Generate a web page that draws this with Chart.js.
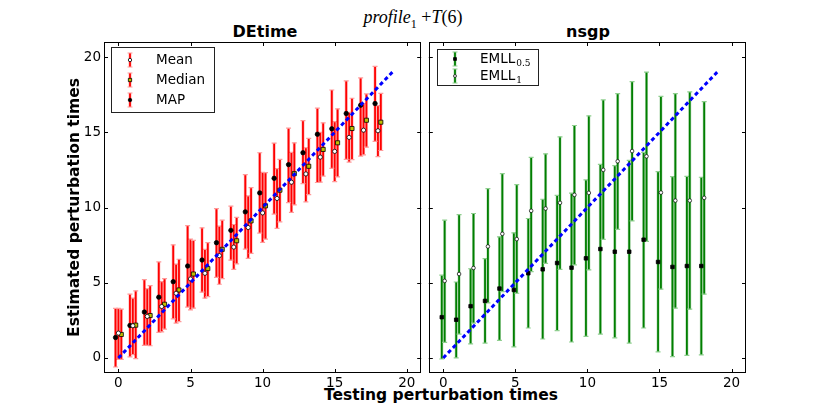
<!DOCTYPE html>
<html>
<head>
<meta charset="utf-8">
<script src="https://cdn.jsdelivr.net/npm/chart.js@4.4.1/dist/chart.umd.min.js"></script>
<style>
  body { margin: 0; background: #fff; }
  #wrap { position: relative; width: 830px; height: 415px; overflow: hidden; font-family: "DejaVu Sans", sans-serif; }
  canvas { position: absolute; top: 0; }
  .lbl { position: absolute; white-space: nowrap; line-height: 1; color: #000; text-align: center; }
</style>
</head>
<body>
<div id="wrap">
  <div class="lbl" style="left:313px; top:8px; width:200px; font-family:'Liberation Serif', serif; font-size:18px;"><i>profile</i><sub style="font-size:12px">1</sub> +<i>T</i>(6)</div>
  <div class="lbl" style="left:165px; top:24px; width:200px; font-size:16px; font-weight:bold;">DEtime</div>
  <div class="lbl" style="left:488px; top:24px; width:200px; font-size:16px; font-weight:bold;">nsgp</div>
  <div class="lbl" style="left:291px; top:388px; width:300px; font-size:15.5px; font-weight:bold;">Testing perturbation times</div>
  <canvas id="left" width="426" height="415" style="left:0"></canvas>
  <canvas id="right" width="406" height="415" style="left:424px"></canvas>
</div>
<script>
// testing perturbation times (x positions)
const trueTimes = [0, 1, 2, 3, 4, 5, 6, 7, 8, 9, 10, 11, 12, 13, 14, 15, 16, 17, 18];
const xTicks = [0, 5, 10, 15, 20];
const yTicks = [0, 5, 10, 15, 20];
const lineX = [0, 19];
const lineY = [0, 19];

// DEtime estimates
const meanVals = [1.65, 2.14, 2.76, 3.42, 4.3, 5.25, 5.63, 6.8, 7.37, 8.67, 9.64, 10.6, 11.68, 12.23, 13.35, 13.73, 14.66, 15.14, 15.1];
const meanHi = [3.3, 3.98, 4.6, 5.07, 6.24, 7.9, 7.22, 8.76, 8.87, 10.77, 12.34, 12.58, 13.66, 13.97, 15.0, 15.71, 16.33, 16.9, 16.77];
const meanLo = [-0.1, 0.22, 0.83, 1.74, 2.32, 3.2, 3.97, 4.9, 5.89, 6.62, 7.68, 8.61, 9.67, 10.37, 11.68, 11.72, 13.02, 13.5, 13.38];

const medianVals = [1.56, 2.18, 2.82, 3.57, 4.52, 5.58, 5.94, 7.22, 7.79, 9.11, 10.11, 11.15, 12.25, 12.74, 13.86, 14.3, 15.25, 15.8, 15.67];
const medianHi = [3.25, 4.46, 4.81, 5.27, 6.56, 7.81, 7.66, 9.16, 9.34, 11.32, 12.32, 13.2, 14.3, 14.59, 15.63, 16.56, 17.26, 17.55, 17.59];
const medianLo = [-0.1, -0.05, 0.81, 1.92, 2.42, 3.31, 4.08, 5.27, 6.25, 6.95, 7.9, 9.05, 10.17, 10.86, 12.09, 12.03, 13.18, 14.01, 13.79];

const mapVals = [1.36, 2.16, 3.05, 4.04, 5.07, 6.11, 6.51, 7.66, 8.48, 9.71, 10.97, 11.94, 12.85, 13.64, 14.87, 15.23, 16.25, 16.8, 16.91];
const mapHi = [3.3, 4.24, 5.2, 6.38, 7.52, 8.8, 8.65, 9.93, 10.09, 12.19, 13.64, 14.28, 15.27, 15.78, 16.6, 17.81, 18.41, 18.61, 19.38];
const mapLo = [-0.6, 0.07, 0.83, 1.7, 2.6, 3.38, 4.37, 5.36, 6.5, 7.24, 8.3, 9.56, 10.33, 11.59, 11.66, 12.6, 13.2, 13.42, 14.39];

// nsgp estimates
const emll05Vals = [2.71, 2.54, 3.44, 3.79, 4.61, 4.52, 5.63, 5.89, 6.31, 6.0, 6.62, 7.24, 7.06, 7.06, 7.86, 6.38, 6.05, 6.11, 6.11];
const emll05Hi = [5.5, 5.05, 5.93, 6.6, 8.05, 8.32, 9.27, 10.55, 10.81, 10.95, 11.83, 12.87, 12.78, 13.13, 13.66, 12.38, 12.05, 12.07, 12.01];
const emll05Lo = [-0.07, 0.0, 0.93, 0.99, 1.17, 0.73, 1.99, 1.26, 1.81, 1.06, 1.43, 1.59, 1.34, 0.99, 1.99, 0.4, 0.09, 0.17, 0.2];

const emll1Vals = [5.12, 5.58, 5.98, 7.41, 8.25, 7.9, 9.78, 9.93, 10.31, 10.84, 10.97, 12.5, 13.07, 13.75, 13.4, 10.99, 10.46, 10.46, 10.64];
const emll1Hi = [9.16, 9.53, 9.6, 11.26, 12.25, 11.52, 13.33, 13.57, 14.7, 15.45, 16.09, 17.15, 17.57, 18.36, 19.0, 17.39, 17.57, 17.68, 17.04];
const emll1Lo = [1.03, 1.59, 2.32, 3.66, 4.41, 4.3, 5.74, 6.29, 5.89, 6.18, 5.85, 7.88, 8.54, 9.11, 7.75, 4.57, 3.31, 3.24, 4.24];

Chart.defaults.font.family = '"DejaVu Sans", sans-serif';
Chart.defaults.color = '#000';

function pts(vals, offset) {
  return trueTimes.map((t, i) => ({ x: t + offset, y: vals[i] }));
}

function drawBar(ctx, ds, x, top, bot) {
  ctx.lineCap = 'butt';
  ctx.strokeStyle = ds.barHalo;
  ctx.lineWidth = 3;
  ctx.beginPath(); ctx.moveTo(x, top); ctx.lineTo(x, bot); ctx.stroke();
  ctx.strokeStyle = ds.barColor;
  ctx.lineWidth = 1.8;
  ctx.beginPath(); ctx.moveTo(x, top); ctx.lineTo(x, bot); ctx.stroke();
  ctx.strokeStyle = ds.capColor;
  ctx.lineWidth = 1.2;
  ctx.beginPath();
  ctx.moveTo(x - 2.5, top); ctx.lineTo(x + 2.5, top);
  ctx.moveTo(x - 2.5, bot); ctx.lineTo(x + 2.5, bot);
  ctx.stroke();
}

const errorBars = {
  id: 'errorBars',
  beforeDatasetsDraw(chart) {
    const { ctx, chartArea, scales: { x, y } } = chart;
    ctx.save();
    ctx.beginPath();
    ctx.rect(chartArea.left, chartArea.top, chartArea.right - chartArea.left, chartArea.bottom - chartArea.top);
    ctx.clip();
    chart.data.datasets.forEach(ds => {
      if (!ds.errLo) return;
      ds.data.forEach((p, i) => {
        drawBar(ctx, ds, x.getPixelForValue(p.x), y.getPixelForValue(ds.errHi[i]), y.getPixelForValue(ds.errLo[i]));
      });
    });
    ctx.restore();
  }
};

const frame = {
  id: 'frame',
  afterDraw(chart) {
    const { ctx, chartArea: a, scales: { x, y } } = chart;
    ctx.save();
    ctx.strokeStyle = '#000';
    ctx.lineWidth = 1;
    ctx.strokeRect(Math.round(a.left) + 0.5, Math.round(a.top) + 0.5, Math.round(a.right - a.left) - 1, Math.round(a.bottom - a.top) - 1);
    ctx.beginPath();
    xTicks.forEach(v => {
      const px = Math.round(x.getPixelForValue(v)) + 0.5;
      ctx.moveTo(px, a.bottom); ctx.lineTo(px, a.bottom - 4);
      ctx.moveTo(px, a.top); ctx.lineTo(px, a.top + 4);
    });
    yTicks.forEach(v => {
      const py = Math.round(y.getPixelForValue(v)) + 0.5;
      ctx.moveTo(a.left, py); ctx.lineTo(a.left + 4, py);
      ctx.moveTo(a.right, py); ctx.lineTo(a.right - 4, py);
    });
    ctx.stroke();
    ctx.restore();
  }
};

const boxLegend = {
  id: 'boxLegend',
  afterDraw(chart, args, opts) {
    const { ctx, chartArea } = chart;
    const bx = Math.round(chartArea.left + opts.dx), by = Math.round(chartArea.top + opts.dy);
    ctx.save();
    ctx.fillStyle = '#fff';
    ctx.fillRect(bx, by, opts.w, opts.h);
    ctx.strokeStyle = '#222';
    ctx.lineWidth = 1;
    ctx.strokeRect(bx + 0.5, by + 0.5, opts.w, opts.h);
    chart.data.datasets.filter(d => d.errLo).forEach((ds, k) => {
      const cy = by + opts.firstRow + k * opts.rowGap;
      const gx = bx + opts.glyphX;
      drawBar(ctx, ds, gx, cy - 7, cy + 7);
      ctx.fillStyle = ds.pointBackgroundColor;
      ctx.strokeStyle = ds.pointBorderColor;
      ctx.lineWidth = ds.pointBorderWidth;
      Chart.helpers.drawPoint(ctx, { pointStyle: ds.pointStyle, radius: ds.pointRadius * 0.8, rotation: 0, borderWidth: ds.pointBorderWidth }, gx, cy);
      ctx.fillStyle = '#000';
      ctx.font = '13.5px "DejaVu Sans"';
      ctx.textBaseline = 'middle';
      ctx.textAlign = 'left';
      ctx.fillText(ds.label, bx + opts.textX, cy);
      if (ds.subLabel) {
        const w = ctx.measureText(ds.label).width;
        ctx.font = '9px "DejaVu Serif"';
        ctx.fillText(ds.subLabel, bx + opts.textX + w + 1, cy + 5);
      }
    });
    ctx.restore();
  }
};

function identityLine() {
  return {
    label: 'y = x',
    data: lineX.map((v, i) => ({ x: v, y: lineY[i] })),
    showLine: true,
    borderColor: '#0000ff',
    borderWidth: 3,
    borderDash: [4, 3],
    pointRadius: 0,
    order: 0
  };
}

function axisOptions(showY) {
  return {
    x: {
      type: 'linear', min: -1, max: 21,
      grid: { display: false, drawTicks: false },
      border: { display: false },
      afterBuildTicks: s => { s.ticks = xTicks.map(v => ({ value: v })); },
      afterFit: s => { s.height = 18; },
      ticks: { padding: 2, font: { size: 13.5 } }
    },
    y: showY ? {
      type: 'linear', min: -1, max: 21,
      grid: { display: false, drawTicks: false },
      border: { display: false },
      afterBuildTicks: s => { s.ticks = yTicks.map(v => ({ value: v })); },
      afterFit: s => { s.width = 104; },
      ticks: { padding: 3, font: { size: 13.5 } },
      title: {
        display: true, text: 'Estimated perturbation times',
        font: { size: 15.5, weight: 'bold' }, padding: { top: 66, bottom: 0 }
      }
    } : { type: 'linear', min: -1, max: 21, display: false }
  };
}

const redBar = { barColor: '#ff0000', barHalo: 'rgba(255,0,0,0.3)', capColor: '#ff9a9a' };
const greenBar = { barColor: '#007f00', barHalo: 'rgba(0,128,0,0.28)', capColor: '#8fcf8f' };

new Chart(document.getElementById('left'), {
  type: 'scatter',
  data: {
    datasets: [
      Object.assign({
        label: 'Mean', data: pts(meanVals, 0), errHi: meanHi, errLo: meanLo,
        pointStyle: 'circle', pointRadius: 2.1, pointBackgroundColor: '#ffffff',
        pointBorderColor: '#000', pointBorderWidth: 0.8, order: 1
      }, redBar),
      Object.assign({
        label: 'Median', data: pts(medianVals, 0.2), errHi: medianHi, errLo: medianLo,
        pointStyle: 'rect', pointRadius: 2.9, pointBackgroundColor: '#bfbf00',
        pointBorderColor: '#000', pointBorderWidth: 0.8, order: 1
      }, redBar),
      Object.assign({
        label: 'MAP', data: pts(mapVals, -0.2), errHi: mapHi, errLo: mapLo,
        pointStyle: 'circle', pointRadius: 2.2, pointBackgroundColor: '#000',
        pointBorderColor: '#000', pointBorderWidth: 0.8, order: 1
      }, redBar),
      identityLine()
    ]
  },
  options: {
    responsive: false,
    animation: false,
    layout: { padding: { left: 0, right: 1, top: 42, bottom: 24 } },
    plugins: {
      legend: { display: false },
      tooltip: { enabled: false },
      boxLegend: { dx: 7, dy: 5, w: 103, h: 65, firstRow: 13, rowGap: 20, glyphX: 19, textX: 45 }
    },
    scales: axisOptions(true)
  },
  plugins: [errorBars, frame, boxLegend]
});

new Chart(document.getElementById('right'), {
  type: 'scatter',
  data: {
    datasets: [
      Object.assign({
        label: 'EMLL', subLabel: '0.5', data: pts(emll05Vals, -0.1), errHi: emll05Hi, errLo: emll05Lo,
        pointStyle: 'rect', pointRadius: 2.5, pointBackgroundColor: '#000',
        pointBorderColor: '#000', pointBorderWidth: 0.8, order: 1
      }, greenBar),
      Object.assign({
        label: 'EMLL', subLabel: '1', data: pts(emll1Vals, 0.1), errHi: emll1Hi, errLo: emll1Lo,
        pointStyle: 'circle', pointRadius: 1.8, pointBackgroundColor: '#ffffff',
        pointBorderColor: '#000', pointBorderWidth: 0.7, order: 1
      }, greenBar),
      identityLine()
    ]
  },
  options: {
    responsive: false,
    animation: false,
    layout: { padding: { left: 1, right: 84, top: 42, bottom: 24 } },
    plugins: {
      legend: { display: false },
      tooltip: { enabled: false },
      boxLegend: { dx: 8, dy: 7, w: 101, h: 36, firstRow: 10, rowGap: 17, glyphX: 18, textX: 43 }
    },
    scales: axisOptions(false)
  },
  plugins: [errorBars, frame, boxLegend]
});
</script>
</body>
</html>
